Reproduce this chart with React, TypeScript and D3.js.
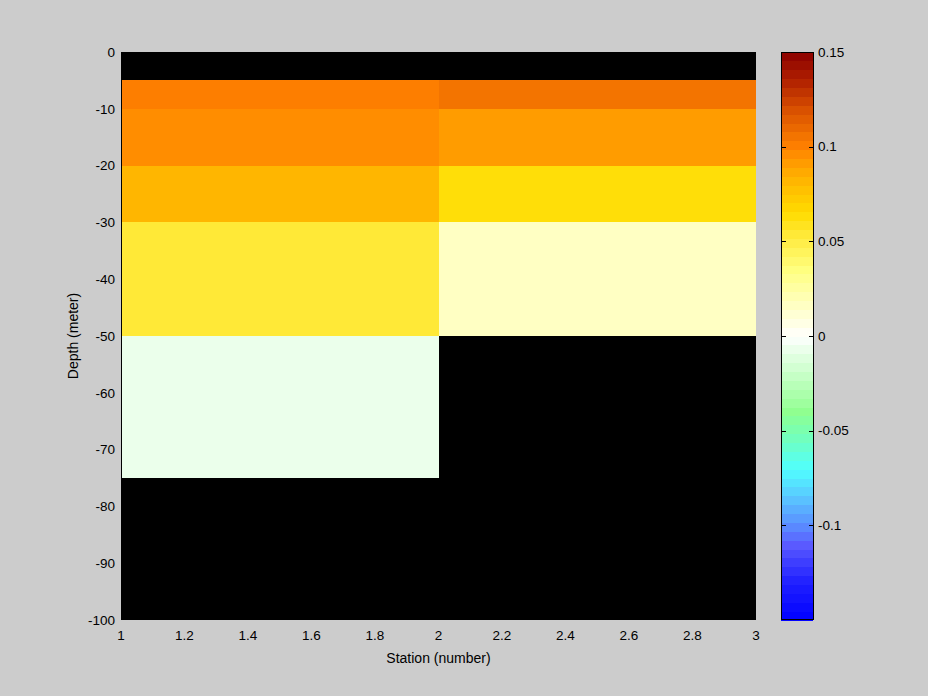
import React from "react";
import * as d3 from "d3";

// Data
const stations = [1, 2, 3];
const depthEdges = [0, -5, -10, -20, -30, -50, -75, -100];
// values per depth layer (rows) for station cells [1-2, 2-3]; null = no data
const col1Values: (number | null)[] = [null, 0.1, 0.097, 0.083, 0.052, -0.008, null];
const col2Values: (number | null)[] = [null, 0.107, 0.093, 0.065, 0.015, null, null];
const xTicks = [1, 1.2, 1.4, 1.6, 1.8, 2, 2.2, 2.4, 2.6, 2.8, 3];
const yTicks = [0, -10, -20, -30, -40, -50, -60, -70, -80, -90, -100];
const cbTicks = [0.15, 0.1, 0.05, 0, -0.05, -0.1];

// colormap anchors
const cmapStops = [-0.15, -0.13, -0.11, -0.1, -0.085, -0.07, -0.055, -0.04, -0.02, -0.008, 0, 0.015, 0.035, 0.052, 0.065, 0.083, 0.093, 0.1, 0.107, 0.12, 0.135, 0.15];
const cmapColors = ["#0000ff", "#2020ff", "#5a5aff", "#5a8cff", "#5ac8ff", "#50ffff", "#70ffc0", "#90ff90", "#c8ffc8", "#e8ffe8", "#ffffff", "#ffffc8", "#ffff80", "#ffeb40", "#ffdc00", "#ffb400", "#ff9800", "#ff8000", "#f07000", "#d85000", "#b02000", "#8b0000"];

const W = 928, H = 696;
const plot = { x0: 121, x1: 756, y0: 52, y1: 620 };
const cb = { x0: 781, x1: 813 };
const cmin = -0.15, cmax = 0.15, nLevels = 64;
const font = "'Liberation Sans', Arial, sans-serif";

export default function App() {
  const x = d3.scaleLinear().domain([1, 3]).range([plot.x0, plot.x1]);
  const y = d3.scaleLinear().domain([0, -100]).range([plot.y0, plot.y1]);
  const cy = d3.scaleLinear().domain([cmin, cmax]).range([plot.y1, plot.y0]);
  const cont = d3.scaleLinear<string>().domain(cmapStops).range(cmapColors).interpolate(d3.interpolateRgb).clamp(true);
  const step = (cmax - cmin) / nLevels;
  const levels = d3.range(nLevels).map((i) => ({ lo: cmin + i * step, hi: cmin + (i + 1) * step, color: cont(cmin + (i + 0.5) * step) }));
  const colorOf = (v: number) => {
    const i = Math.max(0, Math.min(nLevels - 1, Math.floor((v - cmin) / step)));
    return levels[i].color;
  };
  const cols = [col1Values, col2Values];
  const cells: { x0: number; x1: number; d0: number; d1: number; v: number }[] = [];
  cols.forEach((vals, c) => {
    vals.forEach((v, r) => {
      if (v !== null) cells.push({ x0: stations[c], x1: stations[c + 1], d0: depthEdges[r], d1: depthEdges[r + 1], v });
    });
  });
  return (
    <div style={{ position: "absolute", left: 0, top: 0 }}>
      <svg width={W} height={H} style={{ display: "block" }} fontFamily={font}>
        <rect width={W} height={H} fill="#cccccc" />
        <rect x={plot.x0} y={plot.y0} width={plot.x1 - plot.x0} height={plot.y1 - plot.y0} fill="#000" />
        {cells.map((c, i) => (
          <rect key={i} x={x(c.x0)} y={y(c.d0)} width={x(c.x1) - x(c.x0)} height={y(c.d1) - y(c.d0)} fill={colorOf(c.v)} shapeRendering="crispEdges" />
        ))}
        <line x1={plot.x0 + 0.5} x2={plot.x0 + 0.5} y1={plot.y0} y2={plot.y1} stroke="#000" />
        {xTicks.map((t) => (
          <text key={t} x={x(t)} y={640} textAnchor="middle" fontSize={13.5} fill="#000">{d3.format("")(+t.toFixed(1))}</text>
        ))}
        {yTicks.map((t) => (
          <text key={t} x={115} y={y(t)} dy="0.35em" textAnchor="end" fontSize={13.5} fill="#000">{t}</text>
        ))}
        <text x={(plot.x0 + plot.x1) / 2} y={663} textAnchor="middle" fontSize={14} fill="#000">Station (number)</text>
        <text transform={`translate(78,${(plot.y0 + plot.y1) / 2}) rotate(-90)`} textAnchor="middle" fontSize={14} fill="#000">Depth (meter)</text>
        {levels.map((l, i) => (
          <rect key={i} x={cb.x0} y={cy(l.hi)} width={cb.x1 - cb.x0} height={cy(l.lo) - cy(l.hi) + 0.5} fill={l.color} shapeRendering="crispEdges" />
        ))}
        <rect x={cb.x0 + 0.5} y={plot.y0 + 0.5} width={cb.x1 - cb.x0} height={plot.y1 - plot.y0 - 1} fill="none" stroke="#000" />
        {cbTicks.map((t) => (
          <g key={t}>
            <line x1={cb.x0} x2={cb.x0 + 5} y1={Math.round(cy(t)) + 0.5} y2={Math.round(cy(t)) + 0.5} stroke="#000" />
            <line x1={cb.x1 - 4} x2={cb.x1 + 1} y1={Math.round(cy(t)) + 0.5} y2={Math.round(cy(t)) + 0.5} stroke="#000" />
            <text x={818} y={cy(t)} dy="0.35em" fontSize={13.5} fill="#000">{t}</text>
          </g>
        ))}
      </svg>
    </div>
  );
}
